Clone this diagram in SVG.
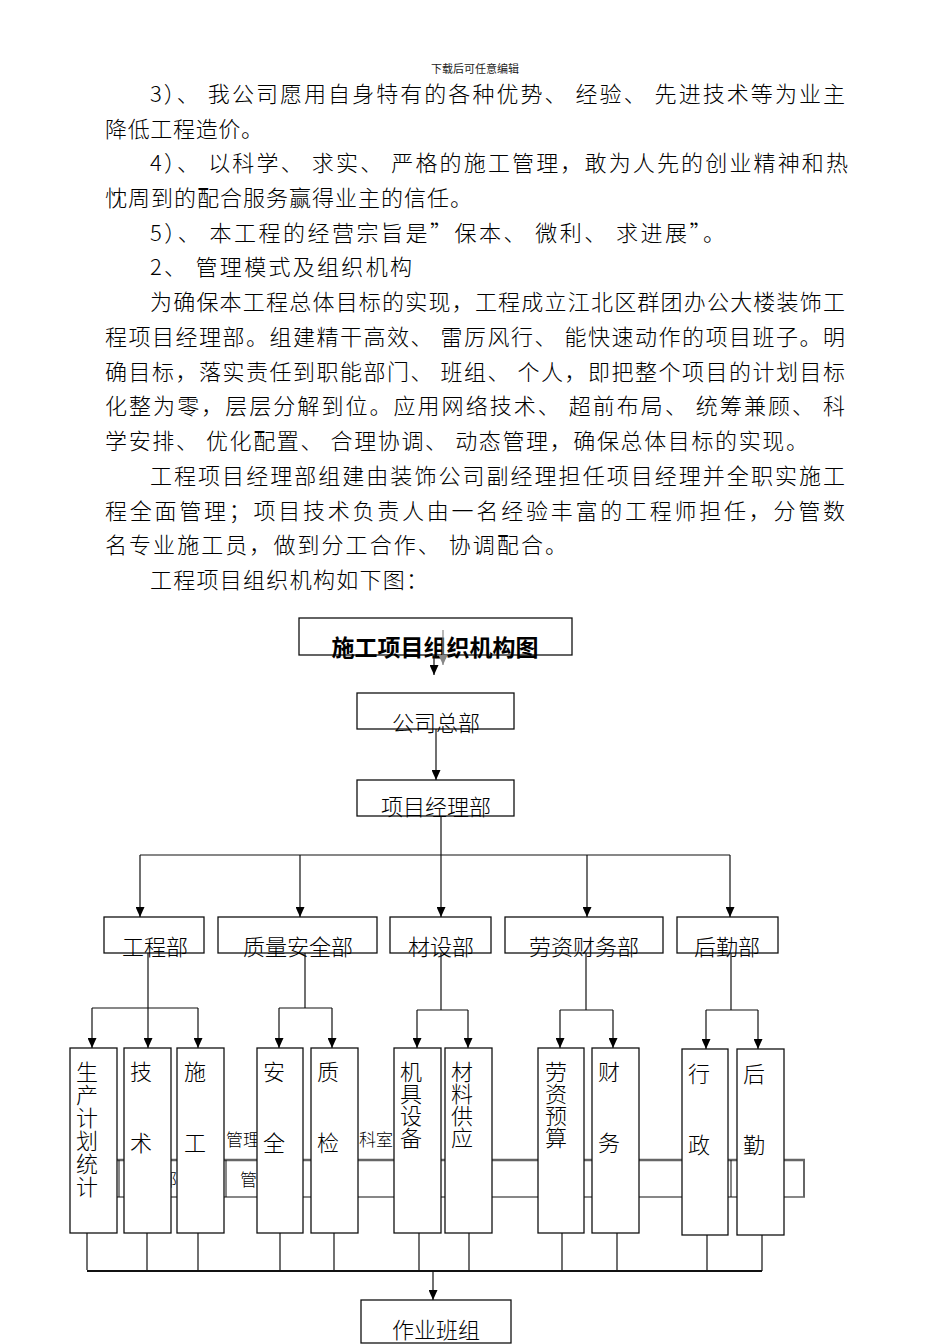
<svg xmlns="http://www.w3.org/2000/svg" width="950" height="1344" viewBox="0 0 950 1344">
<style>
.t{font-family:"Noto Sans CJK SC","Noto Sans",sans-serif;font-size:22px;fill:#000;font-weight:300}
.hd{font-family:"Noto Sans CJK SC",sans-serif;font-size:11px;fill:#222}
.lb{font-family:"Noto Sans CJK SC",sans-serif;font-size:22px;fill:#000;font-weight:300;text-anchor:middle}
.vt{font-family:"Noto Sans CJK SC",sans-serif;font-size:22px;fill:#000;font-weight:300;writing-mode:vertical-rl}
.ttl{font-family:"Noto Sans CJK SC",sans-serif;font-size:23px;fill:#000;font-weight:bold;text-anchor:middle}
.bg{font-family:"Noto Sans CJK SC",sans-serif;font-size:17px;fill:#000;font-weight:300}
.box{fill:none;stroke:#111;stroke-width:1.3}
.col{fill:#fff;stroke:#111;stroke-width:1.3}
.ln{fill:none;stroke:#111;stroke-width:1.2}
.arr{fill:none;stroke:#111;stroke-width:1.2;marker-end:url(#ah)}
</style>
<defs>
<marker id="ah" viewBox="0 0 10 10" refX="10" refY="5" markerWidth="10" markerHeight="9" markerUnits="userSpaceOnUse" orient="auto" preserveAspectRatio="none"><path d="M0,0 L10,5 L0,10 z" fill="#000"/></marker>
<marker id="ahg" viewBox="0 0 10 10" refX="10" refY="5" markerWidth="10" markerHeight="9" markerUnits="userSpaceOnUse" orient="auto" preserveAspectRatio="none"><path d="M0,0 L10,5 L0,10 z" fill="#888"/></marker>
</defs>
<rect width="950" height="1344" fill="#fff"/>

<g id="body-text">
<text class="hd" x="475" y="73" text-anchor="middle">下载后可任意编辑</text>
<text class="t" x="150" y="102" textLength="695" lengthAdjust="spacing">3）、 我公司愿用自身特有的各种优势、 经验、 先进技术等为业主</text>
<text class="t" x="105" y="137" textLength="158" lengthAdjust="spacing">降低工程造价。</text>
<text class="t" x="150" y="171" textLength="698" lengthAdjust="spacing">4）、 以科学、 求实、 严格的施工管理，敢为人先的创业精神和热</text>
<text class="t" x="105" y="206" textLength="367" lengthAdjust="spacing">忱周到的配合服务赢得业主的信任。</text>
<text class="t" x="150" y="241" textLength="575" lengthAdjust="spacing">5）、 本工程的经营宗旨是”保本、 微利、 求进展”。</text>
<text class="t" x="150" y="275" textLength="262" lengthAdjust="spacing">2、 管理模式及组织机构</text>
<text class="t" x="150" y="310" textLength="695" lengthAdjust="spacing">为确保本工程总体目标的实现，工程成立江北区群团办公大楼装饰工</text>
<text class="t" x="105" y="345" textLength="740" lengthAdjust="spacing">程项目经理部。组建精干高效、 雷厉风行、 能快速动作的项目班子。明</text>
<text class="t" x="105" y="380" textLength="740" lengthAdjust="spacing">确目标，落实责任到职能部门、 班组、 个人，即把整个项目的计划目标</text>
<text class="t" x="105" y="414" textLength="740" lengthAdjust="spacing">化整为零，层层分解到位。应用网络技术、 超前布局、 统筹兼顾、 科</text>
<text class="t" x="105" y="449" textLength="703" lengthAdjust="spacing">学安排、 优化配置、 合理协调、 动态管理，确保总体目标的实现。</text>
<text class="t" x="150" y="484" textLength="695" lengthAdjust="spacing">工程项目经理部组建由装饰公司副经理担任项目经理并全职实施工</text>
<text class="t" x="105" y="519" textLength="740" lengthAdjust="spacing">程全面管理；项目技术负责人由一名经验丰富的工程师担任，分管数</text>
<text class="t" x="105" y="553" textLength="462" lengthAdjust="spacing">名专业施工员，做到分工合作、 协调配合。</text>
<text class="t" x="150" y="588" textLength="278" lengthAdjust="spacing">工程项目组织机构如下图：</text>
</g>

<g id="background-table">
<text class="bg" x="226" y="1146">管理</text>
<text class="bg" x="359" y="1146">科室</text>
<line x1="117" y1="1160" x2="805" y2="1160" stroke="#666" stroke-width="2.5"/>
<line x1="117" y1="1197" x2="805" y2="1197" stroke="#111" stroke-width="1.2"/>
<line x1="119" y1="1160" x2="119" y2="1197" stroke="#111" stroke-width="1"/>
<line x1="226" y1="1160" x2="226" y2="1197" stroke="#111" stroke-width="1"/>
<line x1="731" y1="1160" x2="731" y2="1197" stroke="#111" stroke-width="1"/>
<line x1="783" y1="1160" x2="783" y2="1197" stroke="#111" stroke-width="1"/>
<line x1="804" y1="1160" x2="804" y2="1197" stroke="#666" stroke-width="2"/>
<text class="bg" x="160" y="1186">部</text>
<text class="bg" x="240" y="1186">管</text>
</g>

<g id="node-title">
<rect class="box" x="299" y="618" width="273" height="37"/>
<text class="ttl" x="435" y="656">施工项目组织机构图</text>
</g>
<g id="node-hq">
<rect class="box" x="357" y="693" width="157" height="36"/>
<text class="lb" x="436" y="731">公司总部</text>
</g>
<g id="node-pm">
<rect class="box" x="357" y="780" width="157" height="36"/>
<text class="lb" x="436" y="815">项目经理部</text>
</g>

<g id="node-dept-eng"><rect class="box" x="104" y="917" width="100" height="36"/><text class="lb" x="155" y="955">工程部</text></g>
<g id="node-dept-qs"><rect class="box" x="218" y="917" width="159" height="36"/><text class="lb" x="298" y="955">质量安全部</text></g>
<g id="node-dept-mat"><rect class="box" x="390" y="917" width="101" height="36"/><text class="lb" x="441" y="955">材设部</text></g>
<g id="node-dept-fin"><rect class="box" x="505" y="917" width="158" height="36"/><text class="lb" x="584" y="955">劳资财务部</text></g>
<g id="node-dept-log"><rect class="box" x="677" y="917" width="101" height="36"/><text class="lb" x="727" y="955">后勤部</text></g>

<g id="node-plan"><rect class="col" x="70" y="1048" width="47" height="185"/>
<text class="vt" x="87" y="1061" letter-spacing="1">生产计划统计</text></g>
<g id="node-tech"><rect class="col" x="124" y="1048" width="47" height="185"/>
<text class="lb"><tspan x="141" y="1080">技</tspan><tspan x="141" y="1151">术</tspan></text></g>
<g id="node-const"><rect class="col" x="177" y="1048" width="47" height="185"/>
<text class="lb"><tspan x="195" y="1080">施</tspan><tspan x="195" y="1151">工</tspan></text></g>
<g id="node-safety"><rect class="col" x="257" y="1048" width="46" height="185"/>
<text class="lb"><tspan x="274" y="1080">安</tspan><tspan x="274" y="1151">全</tspan></text></g>
<g id="node-qc"><rect class="col" x="311" y="1048" width="47" height="185"/>
<text class="lb"><tspan x="328" y="1080">质</tspan><tspan x="328" y="1151">检</tspan></text></g>
<g id="node-equip"><rect class="col" x="394" y="1048" width="47" height="185"/>
<text class="vt" x="411" y="1061">机具设备</text></g>
<g id="node-supply"><rect class="col" x="445" y="1048" width="47" height="185"/>
<text class="vt" x="462" y="1061">材料供应</text></g>
<g id="node-budget"><rect class="col" x="538" y="1048" width="46" height="185"/>
<text class="vt" x="556" y="1061">劳资预算</text></g>
<g id="node-finance"><rect class="col" x="592" y="1048" width="47" height="185"/>
<text class="lb"><tspan x="609" y="1080">财</tspan><tspan x="609" y="1151">务</tspan></text></g>
<g id="node-admin"><rect class="col" x="682" y="1049" width="46" height="186"/>
<text class="lb"><tspan x="699" y="1082">行</tspan><tspan x="699" y="1153">政</tspan></text></g>
<g id="node-logistics"><rect class="col" x="737" y="1049" width="47" height="186"/>
<text class="lb"><tspan x="754" y="1082">后</tspan><tspan x="754" y="1153">勤</tspan></text></g>

<g id="node-team">
<rect class="box" x="361" y="1300" width="150" height="43"/>
<text class="lb" x="436" y="1338">作业班组</text>
</g>

<g id="connectors">
<line x1="443" y1="630" x2="443" y2="665" stroke="#888" stroke-width="1.2" marker-end="url(#ahg)"/>
<line class="arr" x1="434" y1="655" x2="434" y2="675"/>
<line class="arr" x1="436" y1="729" x2="436" y2="780"/>
<line class="ln" x1="441" y1="816" x2="441" y2="855"/>
<line class="ln" x1="140" y1="855" x2="730" y2="855"/>
<line class="arr" x1="140" y1="855" x2="140" y2="917"/>
<line class="arr" x1="300" y1="855" x2="300" y2="917"/>
<line class="arr" x1="441" y1="855" x2="441" y2="917"/>
<line class="arr" x1="587" y1="855" x2="587" y2="917"/>
<line class="arr" x1="730" y1="855" x2="730" y2="917"/>

<line class="ln" x1="148" y1="953" x2="148" y2="1008"/>
<line class="ln" x1="92" y1="1008" x2="198" y2="1008"/>
<line class="arr" x1="92" y1="1008" x2="92" y2="1048"/>
<line class="arr" x1="148" y1="1008" x2="148" y2="1048"/>
<line class="arr" x1="198" y1="1008" x2="198" y2="1048"/>

<line class="ln" x1="305" y1="953" x2="305" y2="1008"/>
<line class="ln" x1="279" y1="1008" x2="332" y2="1008"/>
<line class="arr" x1="279" y1="1008" x2="279" y2="1048"/>
<line class="arr" x1="332" y1="1008" x2="332" y2="1048"/>

<line class="ln" x1="441" y1="953" x2="441" y2="1010"/>
<line class="ln" x1="417" y1="1010" x2="468" y2="1010"/>
<line class="arr" x1="417" y1="1010" x2="417" y2="1048"/>
<line class="arr" x1="468" y1="1010" x2="468" y2="1048"/>

<line class="ln" x1="586" y1="953" x2="586" y2="1010"/>
<line class="ln" x1="560" y1="1010" x2="613" y2="1010"/>
<line class="arr" x1="560" y1="1010" x2="560" y2="1048"/>
<line class="arr" x1="613" y1="1010" x2="613" y2="1048"/>

<line class="ln" x1="731" y1="953" x2="731" y2="1010"/>
<line class="ln" x1="706" y1="1010" x2="758" y2="1010"/>
<line class="arr" x1="706" y1="1010" x2="706" y2="1049"/>
<line class="arr" x1="758" y1="1010" x2="758" y2="1049"/>

<line class="ln" x1="87" y1="1233" x2="87" y2="1270"/>
<line class="ln" x1="147" y1="1233" x2="147" y2="1270"/>
<line class="ln" x1="198" y1="1233" x2="198" y2="1270"/>
<line class="ln" x1="280" y1="1233" x2="280" y2="1270"/>
<line class="ln" x1="334" y1="1233" x2="334" y2="1270"/>
<line class="ln" x1="419" y1="1233" x2="419" y2="1270"/>
<line class="ln" x1="469" y1="1233" x2="469" y2="1270"/>
<line class="ln" x1="562" y1="1233" x2="562" y2="1270"/>
<line class="ln" x1="617" y1="1233" x2="617" y2="1270"/>
<line class="ln" x1="707" y1="1235" x2="707" y2="1271"/>
<line class="ln" x1="762" y1="1235" x2="762" y2="1271"/>
<line x1="87" y1="1271" x2="762" y2="1271" stroke="#111" stroke-width="2"/>
<line class="arr" x1="433" y1="1271" x2="433" y2="1300"/>
</g>
</svg>
